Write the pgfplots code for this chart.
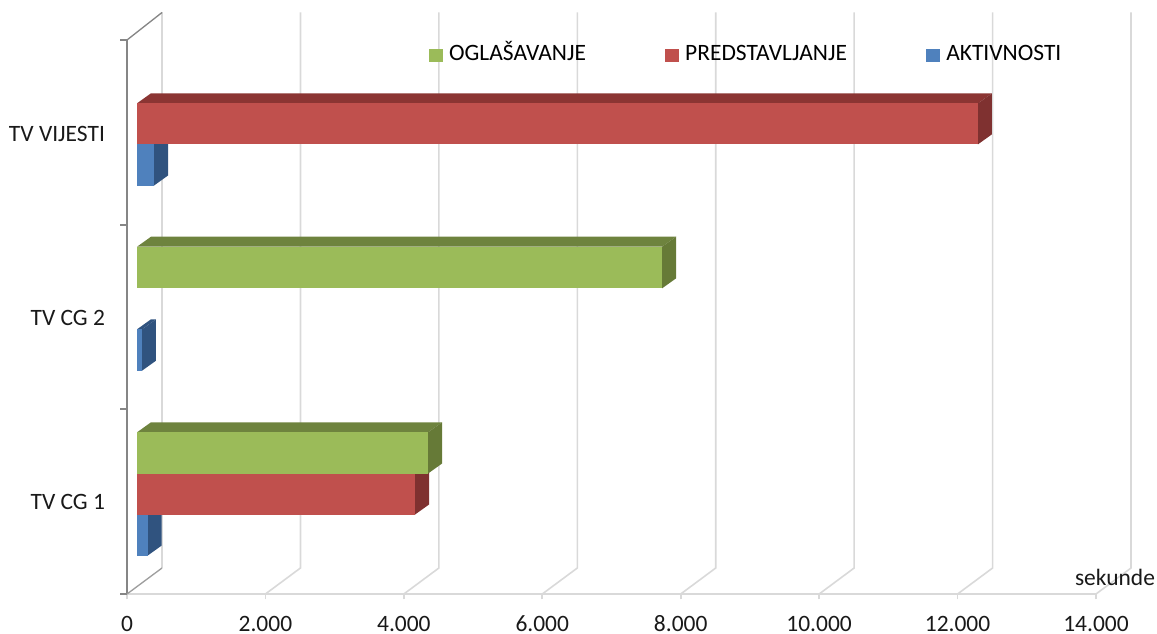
\documentclass[border=0pt]{standalone}
\usepackage{pgfplots}
\pgfplotsset{compat=1.18}
\usepackage{fontspec}
\setmainfont{Carlito}
\definecolor{gridc}{HTML}{D9D9D9}
\definecolor{axc}{HTML}{868686}
\definecolor{rf}{HTML}{C0504D}\definecolor{rt}{HTML}{8B3533}\definecolor{rs}{HTML}{7F3130}
\definecolor{gf}{HTML}{9BBB59}\definecolor{gt}{HTML}{6E833E}\definecolor{gs}{HTML}{667A37}
\definecolor{bf}{HTML}{4F81BD}\definecolor{bt}{HTML}{30537F}\definecolor{bs}{HTML}{30537F}
\newcommand\lblfont{\fontsize{17.6}{20}\selectfont}
% value, y bottom, y top, front, side, top colours
\newcommand\tdbar[6]{%
  \pgfmathsetmacro\xa{145}%
  \pgfmathsetmacro\xb{145+#1}%
  \pgfmathsetmacro\xc{145+202}%
  \pgfmathsetmacro\xd{145+#1+202}%
  \pgfmathsetmacro\yc{#3+10}%
  \pgfmathsetmacro\yd{#2+10}%
  \addplot[forget plot,fill=#6,draw=none] coordinates {(\xa,#3)(\xb,#3)(\xd,\yc)(\xc,\yc)};
  \addplot[forget plot,fill=#5,draw=none] coordinates {(\xb,#2)(\xb,#3)(\xd,\yc)(\xd,\yd)};
  \addplot[forget plot,fill=#4,draw=none] coordinates {(\xa,#2)(\xb,#2)(\xb,#3)(\xa,#3)};
}
\begin{document}
\begin{tikzpicture}
\path[use as bounding box] (-95.25pt,-29.25pt) rectangle ++(867.75pt,474.75pt);
\begin{axis}[
  at={(0,0)},anchor=south west,
  scale only axis,width=726.75pt,height=415.5pt,
  xmin=0,xmax=14000,ymin=0,ymax=554,
  clip=false,
  axis x line*=bottom,axis y line*=left,
  x axis line style={-,draw=gridc,line width=1.2pt},
  y axis line style={-,draw=axc,line width=1.3pt},
  xtick={0,2000,4000,6000,8000,10000,12000,14000},
  ytick={92,276,460},
  yticklabels={TV CG 1,TV CG 2,TV VIJESTI},
  minor ytick={0,185,369,554},
  tick align=outside,
  major tick length=4pt,
  minor tick length=5pt,
  y tick style={draw=none},
  minor y tick style={draw=axc,line width=1pt},
  x tick style={draw=gridc,line width=1.2pt},
  scaled ticks=false,
  /pgf/number format/.cd,1000 sep={.},assume math mode=true,/pgfplots/.cd,
  tick label style={font=\lblfont,text=black!90},
  yticklabel style={xshift=-9pt},
  xticklabel style={inner sep=0pt,text height=11.5pt,text depth=0pt,yshift=-12.5pt},
  legend columns=3,
  legend cell align=left,
  legend style={draw=none,fill=none,at={(axis cs:4371,539)},anchor=west,font=\lblfont,
    inner sep=0pt,outer sep=0pt,
    nodes={text height=12pt,text depth=3pt},
    /tikz/every even column/.append style={column sep=57.75pt},
    /tikz/every odd column/.append style={column sep=0pt}},
]
% back wall and floor lines
\addplot[forget plot,gridc,line width=1.2pt] coordinates {(2000,0)(2506,26)(2506,581.5)};
\addplot[forget plot,gridc,line width=1.2pt] coordinates {(4000,0)(4506,26)(4506,581.5)};
\addplot[forget plot,gridc,line width=1.2pt] coordinates {(6000,0)(6506,26)(6506,581.5)};
\addplot[forget plot,gridc,line width=1.2pt] coordinates {(8000,0)(8506,26)(8506,581.5)};
\addplot[forget plot,gridc,line width=1.2pt] coordinates {(10000,0)(10506,26)(10506,581.5)};
\addplot[forget plot,gridc,line width=1.2pt] coordinates {(12000,0)(12506,26)(12506,581.5)};
\addplot[forget plot,gridc,line width=1.2pt] coordinates {(14000,0)(14506,26)(14506,581.5)};
\addplot[forget plot,gridc,line width=1.2pt] coordinates {(506,26)(506,581.5)};
\addplot[forget plot,axc!80,line width=1pt] coordinates {(0,0)(506,26)};
\addplot[forget plot,axc,line width=1pt] coordinates {(0,554)(506,581.5)};
% TV CG 1
\tdbar{155}{38.5}{79.5}{bf}{bs}{bt}
\tdbar{4017}{79.5}{120.5}{rf}{rs}{rt}
\tdbar{4205}{120.5}{161.7}{gf}{gs}{gt}
% TV CG 2
\tdbar{72}{223.3}{264.7}{bf}{bs}{bt}
\tdbar{7587}{305.7}{347.3}{gf}{gs}{gt}
% TV VIJESTI
\tdbar{246}{408.5}{449.7}{bf}{bs}{bt}
\tdbar{12150}{449.7}{490.7}{rf}{rs}{rt}
% legend
\addlegendimage{only marks,mark=square*,mark size=4.6pt,color=gf}
\addlegendentry{\hspace{3.5pt}OGLAŠAVANJE}
\addlegendimage{only marks,mark=square*,mark size=4.6pt,color=rf}
\addlegendentry{\hspace{3.5pt}PREDSTAVLJANJE}
\addlegendimage{only marks,mark=square*,mark size=4.6pt,color=bf}
\addlegendentry{\hspace{3.5pt}AKTIVNOSTI}
\node[anchor=east,font=\lblfont,text=black!90,inner sep=0pt] at (axis cs:14855,17) {sekunde};
\end{axis}
\end{tikzpicture}
\end{document}
